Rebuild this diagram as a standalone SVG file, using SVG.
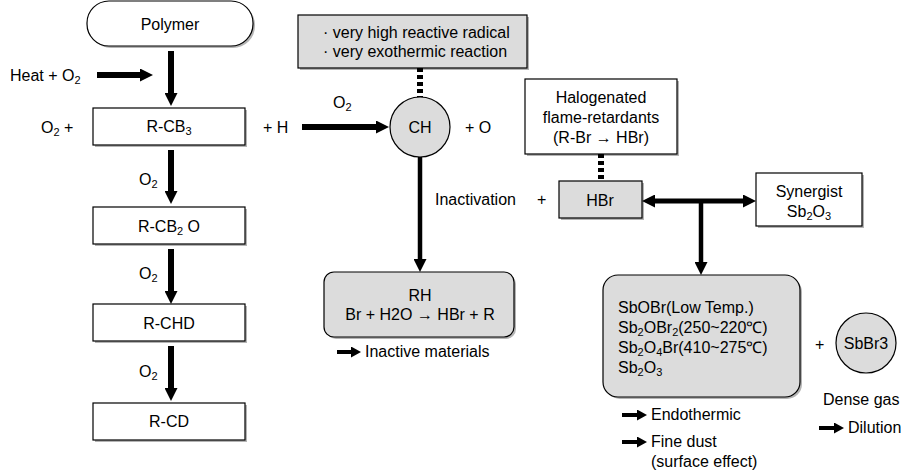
<svg xmlns="http://www.w3.org/2000/svg" width="913" height="475" viewBox="0 0 913 475">
<style>
text{font-family:"Liberation Sans",Arial,sans-serif;font-size:16px;fill:#000}
.c{text-anchor:middle}
.sub{font-size:11px}
.box{fill:#fff;stroke:#000;stroke-width:1.2}
.gbox{fill:#dcdcdc;stroke:#000;stroke-width:1.2}
.sh{fill:#b4b4b4}
.ar{stroke:#000;fill:none}
.dot{stroke:#000;stroke-width:6;stroke-dasharray:4 3;fill:none}
</style>
<defs>
<marker id="ah" markerUnits="userSpaceOnUse" markerWidth="13" markerHeight="13" refX="0" refY="6.5" orient="auto-start-reverse" viewBox="0 0 13 13"><path d="M0,0 L13,6.5 L0,13 z" fill="#000"/></marker>
<marker id="sa" markerUnits="userSpaceOnUse" markerWidth="10" markerHeight="11" refX="0" refY="5.5" orient="auto" viewBox="0 0 10 11"><path d="M0,0 L10,5.5 L0,11 z" fill="#000"/></marker>
</defs>

<g id="polymer">
<rect x="89" y="3" width="166" height="45" rx="22" class="sh"/>
<rect x="87" y="1" width="166" height="45" rx="22" class="box"/>
<text x="170" y="30" class="c">Polymer</text>
</g>
<g id="rcb3">
<rect x="95" y="110" width="152" height="37" class="sh"/>
<rect x="93" y="108" width="152" height="37" class="box"/>
<text x="169" y="132" class="c">R-CB<tspan dy="3" class="sub">3</tspan></text>
</g>
<g id="rcb2o">
<rect x="95" y="209" width="152" height="37" class="sh"/>
<rect x="93" y="207" width="152" height="37" class="box"/>
<text x="169" y="232" class="c">R-CB<tspan dy="3" class="sub">2</tspan><tspan dy="-3"> O</tspan></text>
</g>
<g id="rchd">
<rect x="95" y="306" width="152" height="37" class="sh"/>
<rect x="93" y="304" width="152" height="37" class="box"/>
<text x="169" y="329" class="c">R-CHD</text>
</g>
<g id="rcd">
<rect x="95" y="405" width="152" height="37" class="sh"/>
<rect x="93" y="403" width="152" height="37" class="box"/>
<text x="169" y="427" class="c">R-CD</text>
</g>

<g id="radical-note">
<rect x="300" y="17" width="229" height="53" class="sh"/>
<rect x="298" y="15" width="229" height="53" class="gbox"/>
<text x="323" y="38">· very high reactive radical</text>
<text x="323" y="57">· very exothermic reaction</text>
</g>
<g id="ch">
<circle cx="420" cy="127" r="30" class="gbox"/>
<text x="420" y="133" class="c">CH</text>
</g>
<g id="rh">
<rect x="326" y="274" width="190" height="65" rx="10" class="sh"/>
<rect x="324" y="272" width="190" height="65" rx="10" class="gbox"/>
<text x="420" y="301" class="c">RH</text>
<text x="420" y="320" class="c">Br + H2O → HBr + R</text>
</g>
<g id="halogenated">
<rect x="527" y="81" width="152" height="75" class="sh"/>
<rect x="525" y="79" width="152" height="75" class="box"/>
<text x="601" y="103" class="c">Halogenated</text>
<text x="601" y="123" class="c">flame-retardants</text>
<text x="601" y="143" class="c">(R-Br → HBr)</text>
</g>
<g id="hbr">
<rect x="561" y="183" width="83" height="37" class="sh"/>
<rect x="559" y="181" width="83" height="37" class="gbox"/>
<text x="600" y="206" class="c">HBr</text>
</g>
<g id="synergist">
<rect x="758" y="175" width="106" height="53" class="sh"/>
<rect x="756" y="173" width="106" height="53" class="box"/>
<text x="809" y="197" class="c">Synergist</text>
<text x="809" y="217" class="c">Sb<tspan dy="3" class="sub">2</tspan><tspan dy="-3">O</tspan><tspan dy="3" class="sub">3</tspan></text>
</g>
<g id="sb-products">
<rect x="605" y="277" width="197" height="122" rx="15" class="sh"/>
<rect x="603" y="275" width="197" height="122" rx="15" class="gbox"/>
<text x="618" y="313">SbOBr(Low Temp.)</text>
<text x="618" y="333">Sb<tspan dy="3" class="sub">2</tspan><tspan dy="-3">OBr</tspan><tspan dy="3" class="sub">2</tspan><tspan dy="-3">(250~220℃)</tspan></text>
<text x="618" y="353">Sb<tspan dy="3" class="sub">2</tspan><tspan dy="-3">O</tspan><tspan dy="3" class="sub">4</tspan><tspan dy="-3">Br(410~275℃)</tspan></text>
<text x="618" y="373">Sb<tspan dy="3" class="sub">2</tspan><tspan dy="-3">O</tspan><tspan dy="3" class="sub">3</tspan></text>
</g>
<g id="sbbr3">
<circle cx="866" cy="343" r="30" class="gbox"/>
<text x="866" y="349" class="c">SbBr3</text>
</g>

<g id="connectors">
<path d="M171,51 V93" class="ar" stroke-width="6" marker-end="url(#ah)"/>
<path d="M97,75 H140" class="ar" stroke-width="6" marker-end="url(#ah)"/>
<path d="M171,150 V191" class="ar" stroke-width="6" marker-end="url(#ah)"/>
<path d="M171,249 V291" class="ar" stroke-width="6" marker-end="url(#ah)"/>
<path d="M171,346 V388" class="ar" stroke-width="6" marker-end="url(#ah)"/>
<path d="M302,127 H376" class="ar" stroke-width="6" marker-end="url(#ah)"/>
<path d="M420,68 V97" class="dot"/>
<path d="M420,157 V259" class="ar" stroke-width="4.5" marker-end="url(#ah)"/>
<path d="M601,154 V181" class="dot"/>
<path d="M655,201 H743" class="ar" stroke-width="5" marker-start="url(#ah)" marker-end="url(#ah)"/>
<path d="M701,201 V262" class="ar" stroke-width="4.5" marker-end="url(#ah)"/>
<path d="M337,352 H351" class="ar" stroke-width="4" marker-end="url(#sa)"/>
<path d="M622,415 H637" class="ar" stroke-width="4" marker-end="url(#sa)"/>
<path d="M622,442 H637" class="ar" stroke-width="4" marker-end="url(#sa)"/>
<path d="M819,428 H834" class="ar" stroke-width="4" marker-end="url(#sa)"/>
</g>

<g id="labels">
<text x="10" y="81">Heat + O<tspan dy="3" class="sub">2</tspan></text>
<text x="41" y="133">O<tspan dy="3" class="sub">2</tspan><tspan dy="-3"> +</tspan></text>
<text x="263" y="133">+ H</text>
<text x="139" y="185">O<tspan dy="3" class="sub">2</tspan></text>
<text x="139" y="279">O<tspan dy="3" class="sub">2</tspan></text>
<text x="139" y="377">O<tspan dy="3" class="sub">2</tspan></text>
<text x="333" y="108">O<tspan dy="3" class="sub">2</tspan></text>
<text x="465" y="133">+ O</text>
<text x="435" y="205">Inactivation</text>
<text x="537" y="205">+</text>
<text x="365" y="357">Inactive materials</text>
<text x="815" y="350">+</text>
<text x="823" y="405">Dense gas</text>
<text x="651" y="420">Endothermic</text>
<text x="651" y="447">Fine dust</text>
<text x="651" y="467">(surface effect)</text>
<text x="848" y="433">Dilution</text>
</g>
</svg>
